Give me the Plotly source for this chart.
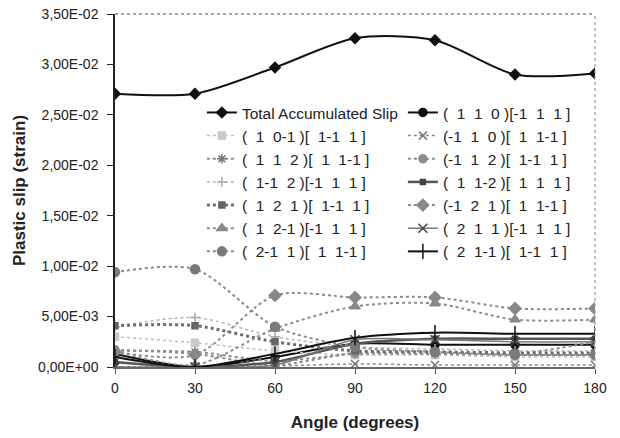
import plotly.graph_objects as go

angles = [0, 30, 60, 90, 120, 150, 180]

plane_indices = [None, (1, 1, 0), (1, 0, -1), (-1, 1, 0), (1, 1, 2), (-1, 1, 2), (1, -1, 2),
                 (1, 1, -2), (1, 2, 1), (-1, 2, 1), (1, 2, -1), (2, 1, 1), (2, -1, 1), (2, 1, -1)]
direction_indices = [None, (-1, 1, 1), (1, -1, 1), (1, 1, -1), (1, 1, -1), (1, -1, 1), (-1, 1, 1),
                     (1, 1, 1), (1, -1, 1), (1, 1, -1), (-1, 1, 1), (-1, 1, 1), (1, 1, -1), (1, -1, 1)]

total_slip = [0.0271, 0.0271, 0.0297, 0.0326, 0.0324, 0.0290, 0.0291]
s_110 = [0.0013, 0.0000, 0.0010, 0.0023, 0.0022, 0.0022, 0.0022]
s_10m1 = [0.0030, 0.0024, 0.0016, 0.0012, 0.0012, 0.0010, 0.0010]
s_m110 = [0.0000, 0.0000, 0.0001, 0.0003, 0.0002, 0.0002, 0.0002]
s_112 = [0.0016, 0.0015, 0.0006, 0.0013, 0.0013, 0.0012, 0.0012]
s_m112 = [0.0017, 0.0013, 0.0002, 0.0014, 0.0015, 0.0013, 0.0025]
s_1m12 = [0.0040, 0.0049, 0.0030, 0.0020, 0.0018, 0.0016, 0.0016]
s_11m2 = [0.0005, 0.0000, 0.0005, 0.0023, 0.0028, 0.0028, 0.0028]
s_121 = [0.0041, 0.0041, 0.0025, 0.0016, 0.0015, 0.0014, 0.0014]
s_m121 = [0.0015, 0.0012, 0.0071, 0.0069, 0.0069, 0.0058, 0.0058]
s_12m1 = [0.0016, 0.0002, 0.0038, 0.0060, 0.0063, 0.0047, 0.0047]
s_211 = [0.0000, 0.0000, 0.0002, 0.0027, 0.0027, 0.0025, 0.0025]
s_2m11 = [0.0094, 0.0097, 0.0040, 0.0020, 0.0015, 0.0012, 0.0012]
s_21m1 = [0.0010, 0.0000, 0.0013, 0.0029, 0.0034, 0.0033, 0.0033]

series_values = [total_slip, s_110, s_10m1, s_m110, s_112, s_m112, s_1m12,
                 s_11m2, s_121, s_m121, s_12m1, s_211, s_2m11, s_21m1]

y_tickvals = [0, 0.005, 0.01, 0.015, 0.02, 0.025, 0.03, 0.035]
y_ticktext = ["0,00E+00", "5,00E-03", "1,00E-02", "1,50E-02", "2,00E-02",
              "2,50E-02", "3,00E-02", "3,50E-02"]

NB = "\u00a0"


def fmt_idx(idx):
    out = ""
    for v in idx:
        out += ("-" if v < 0 else NB * 2) + str(abs(v))
    return out


def label(i):
    if plane_indices[i] is None:
        return "Total Accumulated Slip"
    return "(" + fmt_idx(plane_indices[i]) + NB + ")[" + fmt_idx(direction_indices[i]) + NB + "]"


# style per series: (line color, width, dash, marker symbol, marker color, marker size)
styles = [
    ("#111111", 2.0, "solid", "diamond", "#111111", 8),
    ("#111111", 2.0, "solid", "circle", "#111111", 8),
    ("#bdbdbd", 1.5, "dot", "square", "#c8c8c8", 7),
    ("#8a8a8a", 1.5, "dot", "x-thin-open", "#777777", 8),
    ("#8a8a8a", 2.0, "dot", "asterisk-open", "#777777", 8),
    ("#8c8c8c", 2.0, "dot", "circle", "#8c8c8c", 8),
    ("#b5b5b5", 1.5, "dot", "cross-thin-open", "#aaaaaa", 7),
    ("#555555", 2.5, "solid", "square", "#444444", 5),
    ("#6e6e6e", 3.0, "dot", "square", "#666666", 6),
    ("#8c8c8c", 2.0, "dot", "diamond", "#888888", 9),
    ("#8c8c8c", 2.0, "dot", "triangle-up", "#888888", 9),
    ("#777777", 1.5, "solid", "x-thin-open", "#444444", 9),
    ("#8a8a8a", 2.0, "dot", "circle", "#7a7a7a", 9),
    ("#111111", 2.0, "solid", "line-ns-open", "#111111", 11),
]

fig = go.Figure()
for i, (vals, st) in enumerate(zip(series_values, styles)):
    lc, lw, dash, sym, mc, ms = st
    fig.add_trace(go.Scatter(
        x=angles, y=vals, name=label(i),
        mode="lines+markers",
        line=dict(color=lc, width=lw, dash=dash, shape="spline", smoothing=0.8),
        marker=dict(symbol=sym, color=mc, size=ms,
                    line=dict(color=mc, width=1.5)),
    ))

fig.update_layout(
    width=620, height=438,
    margin=dict(l=115, r=25, t=14, b=71),
    paper_bgcolor="white", plot_bgcolor="white",
    font=dict(family="Liberation Sans, Arial, sans-serif", color="#222222", size=14),
    showlegend=True,
    legend=dict(
        orientation="h", x=0.181, y=0.768, xanchor="left", yanchor="top",
        entrywidth=156, entrywidthmode="pixels",
        bgcolor="rgba(255,255,255,0)", font=dict(size=15.5, color="#222222"),
        tracegroupgap=0, itemwidth=30,
    ),
    xaxis=dict(
        range=[0, 180], tickvals=angles, ticks="outside", ticklen=5,
        tickcolor="#555555", showgrid=False, zeroline=False,
        showline=True, linecolor="#666666", linewidth=1.5,
        tickfont=dict(size=14), ticklabelstandoff=2, automargin=False,
        title=dict(text="<b>Angle (degrees)</b>", font=dict(size=17), standoff=22),
    ),
    yaxis=dict(
        range=[0, 0.035], tickvals=y_tickvals, ticktext=y_ticktext,
        ticks="outside", ticklen=6, tickcolor="#222222",
        showgrid=False, zeroline=False, showline=True,
        linecolor="#222222", linewidth=1.5, tickfont=dict(size=14),
        ticklabelstandoff=6, automargin=False,
        title=dict(text="<b>Plastic slip (strain)</b>", font=dict(size=17), standoff=8),
    ),
    shapes=[
        dict(type="line", xref="paper", yref="paper", x0=0, x1=1, y0=1, y1=1,
             line=dict(color="#888888", width=1.5, dash="dot")),
        dict(type="line", xref="paper", yref="paper", x0=1, x1=1, y0=0, y1=1,
             line=dict(color="#999999", width=1.2, dash="dot")),
    ],
)

fig.write_html("out.html")
